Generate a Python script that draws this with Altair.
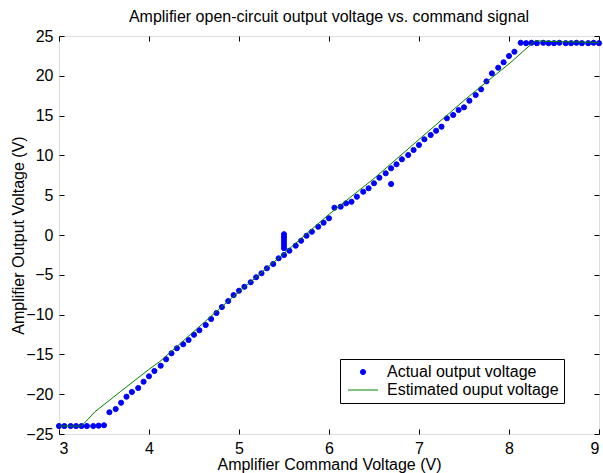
import altair as alt
import pandas as pd

ACT = "Actual output voltage"
EST = "Estimated ouput voltage"

actual_x = [3.0, 3.06, 3.13, 3.19, 3.25, 3.31, 3.38, 3.44, 3.5,
            3.56, 3.63, 3.69, 3.75, 3.81, 3.88, 3.94, 4.0, 4.06, 4.13, 4.19, 4.25, 4.31, 4.38, 4.44, 4.5, 4.56, 4.63,
            4.69, 4.75, 4.81, 4.88, 4.94,
            5.0, 5.06, 5.13, 5.19, 5.25, 5.31, 5.38, 5.44, 5.5, 5.56, 5.63, 5.69, 5.75, 5.81, 5.88, 5.94, 6.0,
            6.06, 6.13, 6.19, 6.25, 6.31, 6.38, 6.44, 6.5, 6.56, 6.63, 6.69, 6.75, 6.81, 6.88, 6.94, 7.0,
            7.06, 7.13, 7.19, 7.25, 7.31, 7.38, 7.44, 7.5, 7.56, 7.63, 7.69,
            7.75, 7.81, 7.88, 7.94, 8.0, 8.06,
            8.13, 8.19, 8.25, 8.31, 8.38, 8.44, 8.5, 8.56, 8.63, 8.69, 8.75, 8.81, 8.88, 8.94, 9.0,
            5.5, 5.5, 5.5, 5.5, 5.5, 5.5, 6.69]
actual_y = [-24.0, -24.0, -24.0, -24.0, -24.0, -24.0, -24.0, -23.95, -23.9,
            -22.27, -21.86, -21.07, -20.31, -19.72, -19.22, -18.43, -17.75, -17.08, -16.42, -15.61, -14.86, -14.23, -13.73, -13.19, -12.53, -11.97, -11.31,
            -10.55, -9.8, -9.05, -8.3, -7.55,
            -7.0, -6.5, -5.94, -5.31, -4.81, -4.18, -3.64, -2.93, -2.51, -1.97, -1.34, -0.72, -0.09, 0.41, 1.04, 1.55, 2.1,
            3.43, 3.56, 3.98, 4.18, 4.81, 5.44, 5.87, 6.5, 7.2, 7.75, 8.38, 8.88, 9.51, 10.05, 10.68, 11.31,
            12.02, 12.56, 13.1, 13.61, 14.66, 15.08, 15.7, 16.04, 16.87, 17.59, 18.3,
            19.3, 20.31, 21.02, 21.7, 22.49, 23.03,
            24.15, 24.1, 24.15, 24.1, 24.15, 24.1, 24.1, 24.15, 24.1, 24.1, 24.15, 24.1, 24.1, 24.15, 24.1,
            -1.65, -1.3, -0.95, -0.6, -0.25, 0.1, 6.41]

est_x = [3.0, 3.25, 3.4, 3.68, 3.99, 4.12, 4.55, 4.9, 5.5, 6.0, 6.5, 7.0, 7.5, 7.66, 8.0, 8.29, 8.5, 9.0]
est_y = [-24.0, -24.0, -22.2, -19.7, -16.96, -15.9, -11.6, -8.1, -2.3, 2.6, 7.1, 12.0, 16.9, 18.4, 21.5, 24.4, 24.3, 24.2]

x_ticks = [3, 4, 5, 6, 7, 8, 9]
y_ticks = [-25, -20, -15, -10, -5, 0, 5, 10, 15, 20, 25]

df_act = pd.DataFrame({"x": actual_x, "y": actual_y, "series": ACT})
df_est = pd.DataFrame({"x": est_x, "y": est_y, "series": EST})

W, H = 540, 398
FONT = "Liberation Sans"
dom = [ACT, EST]

xs = alt.Scale(domain=[3, 9], nice=False, zero=False)
ys = alt.Scale(domain=[-25, 25], nice=False, zero=False)

leg = alt.Legend(title=None, orient="none", legendX=281, legendY=323,
                 strokeColor="black", fillColor="white", padding=5,
                 labelFont=FONT, labelFontSize=16, labelColor="black", labelLimit=0,
                 labelExpr="datum.label + '\u00a0\u00a0'",
                 symbolOffset=10, labelOffset=16, symbolStrokeWidth=1, rowPadding=2,
                 cornerRadius=0)

fill_enc = alt.Fill("series:N", scale=alt.Scale(domain=dom, range=["#0000ff", "#008000"]), legend=leg)
stroke_enc = alt.Stroke("series:N", scale=alt.Scale(domain=dom, range=["#0000ff", "#008000"]), legend=leg)
shape_enc = alt.Shape("series:N", scale=alt.Scale(domain=dom, range=["circle", "M-2,0H2"]), legend=leg)
size_enc = alt.Size("series:N", scale=alt.Scale(type="ordinal", domain=dom, range=[26, 225]), legend=leg)

lab_x = alt.Axis(orient="bottom", values=x_ticks, ticks=False, tickSize=0, domain=False, grid=False,
                 labelPadding=6, labelFont=FONT, labelFontSize=16, labelColor="black",
                 title="Amplifier Command Voltage (V)", titleFont=FONT, titleFontSize=16,
                 titleFontWeight="normal", titleColor="black", titlePadding=0)
lab_y = alt.Axis(orient="left", values=y_ticks, ticks=False, tickSize=0, domain=False, grid=False,
                 labelPadding=6, labelFont=FONT, labelFontSize=16, labelColor="black",
                 title="Amplifier Output Voltage (V)", titleFont=FONT, titleFontSize=16,
                 titleFontWeight="normal", titleColor="black", titlePadding=-1)

points = alt.Chart(df_act).mark_point(filled=True, opacity=1, strokeWidth=1).encode(
    x=alt.X("x:Q", scale=xs, axis=lab_x),
    y=alt.Y("y:Q", scale=ys, axis=lab_y),
    fill=fill_enc, stroke=stroke_enc, shape=shape_enc, size=size_enc,
)


def tick_axis(orient, offset, vals):
    return alt.Axis(orient=orient, offset=offset, values=vals, labels=False, domain=False,
                    grid=False, ticks=True, tickSize=5, tickColor="black", tickWidth=1, title=None)


line = alt.Chart(df_est).mark_line(strokeWidth=1).encode(
    x=alt.X("x:Q", scale=xs, axis=tick_axis("top", -H, x_ticks)),
    y=alt.Y("y:Q", scale=ys, axis=tick_axis("right", -W, y_ticks)),
    stroke=stroke_enc,
)

ghost = alt.Chart(df_est).mark_line(opacity=0).encode(
    x=alt.X("x:Q", scale=xs, axis=tick_axis("bottom", -H, x_ticks)),
    y=alt.Y("y:Q", scale=ys, axis=tick_axis("left", -W, y_ticks)),
)

chart = alt.layer(points, line, ghost).resolve_axis(x="independent", y="independent").properties(
    width=W, height=H,
    title=alt.TitleParams("Amplifier open-circuit output voltage vs. command signal",
                          font=FONT, fontSize=16, fontWeight="normal", color="black", offset=3),
    autosize=alt.AutoSizeParams(type="none"),
    padding={"left": 59, "top": 36, "right": 4, "bottom": 39},
).configure_view(stroke="black", strokeWidth=1).configure(background="white")

chart.save("out.html", embed_options={"renderer": "svg", "actions": False})
